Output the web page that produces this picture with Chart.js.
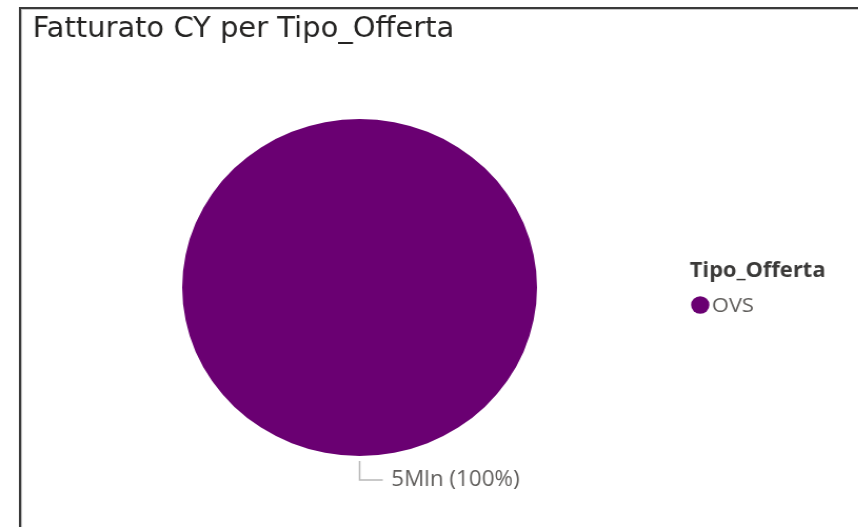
<!DOCTYPE html>
<html>
<head>
<meta charset="utf-8">
<script src="https://cdn.jsdelivr.net/npm/chart.js@4"></script>
<style>
  html, body { margin: 0; padding: 0; background: #fff; overflow: hidden; }
  /* the visual in the screenshot is slightly stretched horizontally */
  #fatturatoChart { transform: scaleX(1.053); transform-origin: 0 0; }
</style>
</head>
<body>
<canvas id="fatturatoChart" width="815" height="527"></canvas>
<script>
const categories = ['OVS'];
const fatturato = [5000000];
const colors = ['#6a0072'];
const chartTitle = 'Fatturato CY per Tipo_Offerta';
const legendTitle = 'Tipo_Offerta';

function formatMln(v) {
  return Math.round(v / 1000000) + 'Mln';
}

// frame, title, legend and data label like the Power BI visual
const decorPlugin = {
  id: 'decor',
  afterDraw(chart) {
    const ctx = chart.ctx;
    ctx.save();
    // frame
    ctx.fillStyle = '#3a3a3a';
    ctx.fillRect(18, 7, 830, 2);
    ctx.fillRect(18, 7, 2, 527);
    ctx.fillStyle = '#c8c8c8';
    ctx.fillRect(20, 9, 830, 1);
    ctx.fillRect(20, 9, 1, 527);

    // title
    ctx.fillStyle = '#252423';
    ctx.font = '27.5px "DejaVu Sans", sans-serif';
    ctx.textBaseline = 'alphabetic';
    ctx.fillText(chartTitle, 31, 37);

    // legend
    ctx.fillStyle = '#3b3a39';
    ctx.font = 'bold 20.8px "Open Sans", sans-serif';
    ctx.fillText(legendTitle, 655, 277);
    ctx.font = '20.8px "Open Sans", sans-serif';
    categories.forEach((c, i) => {
      const y = 305 + i * 28;
      ctx.fillStyle = colors[i];
      ctx.beginPath();
      ctx.arc(665, y, 8.7, 0, Math.PI * 2);
      ctx.fill();
      ctx.fillStyle = '#605e5c';
      ctx.textBaseline = 'middle';
      ctx.fillText(c, 676, y + 1);
    });

    // data label with leader line at the bottom of the slice
    const arc = chart.getDatasetMeta(0).data[0];
    const total = fatturato.reduce((a, b) => a + b, 0);
    const bx = arc.x;
    const by = arc.y + arc.outerRadius + 5;
    ctx.strokeStyle = '#b8b8b8';
    ctx.lineWidth = 1.5;
    ctx.beginPath();
    ctx.moveTo(bx, by);
    ctx.lineTo(bx, by + 19);
    ctx.lineTo(bx + 22, by + 19);
    ctx.stroke();
    ctx.fillStyle = '#605e5c';
    ctx.font = '21.3px "Open Sans", sans-serif';
    ctx.textBaseline = 'middle';
    const pct = Math.round(fatturato[0] / total * 100);
    ctx.fillText(formatMln(fatturato[0]) + ' (' + pct + '%)', bx + 30, by + 19);
    ctx.restore();
  }
};

const ctxEl = document.getElementById('fatturatoChart');
const fatturatoChart = new Chart(ctxEl, {
  type: 'pie',
  data: {
    labels: categories,
    datasets: [{
      data: fatturato,
      backgroundColor: colors,
      borderWidth: 0
    }]
  },
  options: {
    responsive: false,
    animation: false,
    layout: { padding: { left: 173, right: 305, top: 119, bottom: 71 } },
    plugins: {
      legend: { display: false },
      tooltip: { enabled: false }
    }
  },
  plugins: [decorPlugin]
});
</script>
</body>
</html>
